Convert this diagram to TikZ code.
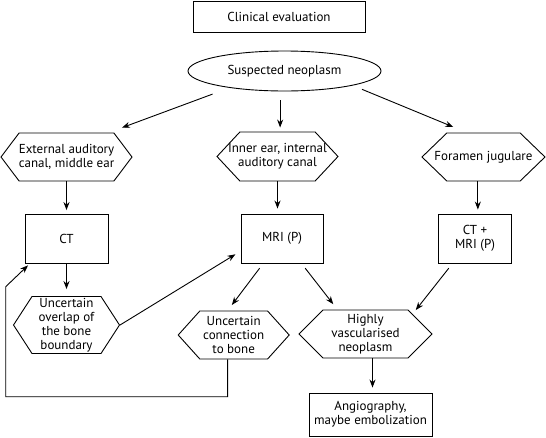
\documentclass[tikz,border=0pt]{standalone}
\usepackage{fontspec}
\setmainfont{PT Sans}
\usetikzlibrary{arrows.meta,positioning,shapes.geometric,shapes.symbols}
\tikzset{
>={Stealth[length=8pt,width=6pt]},
  boxnode/.style={
    rectangle,
    draw=black, line width=0.9pt,
    align=center,
    inner sep=2pt},
  hexnode/.style={
    signal,
    signal to=west and east,
    signal pointer angle=96,
    draw=black, line width=0.9pt,
    align=center,
    inner xsep=-20pt, inner ysep=0pt},
  ovalnode/.style={
    ellipse,
    draw=black, line width=0.9pt,
    inner sep=0pt},
  line/.style={draw, line width=0.9pt, ->},
}

\begin{document}
\begin{tikzpicture}
[x=1pt, y=-1pt, node distance=82pt,
  font=\fontsize{13}{14}\selectfont]
  \useasboundingbox (0,0) rectangle (546,437);

    \node [boxnode, minimum width=172pt, minimum height=31pt] (eval) at (279,16.5) {Clinical evaluation};
    \node [ovalnode, minimum width=193pt, minimum height=40pt] (neo) at (284.5,71) {Suspected neoplasm};

    \node [hexnode, signal pointer angle=106, minimum width=131pt, minimum height=48pt] (ext) at (66.5,157)
                                          {External auditory\\canal, middle ear};
    \node [hexnode, signal pointer angle=94, minimum width=121pt, minimum height=49pt] (inner) at (277.5,156.5)
                                          {Inner ear, internal\\auditory canal};
    \node [hexnode, signal pointer angle=88, minimum width=123pt, minimum height=48pt] (foramen) at (483.5,157)
                                          {Foramen jugulare};

    \node [boxnode, minimum width=83pt, minimum height=49pt, below of=ext] (ct) {CT};
    \node [boxnode, minimum width=82pt, minimum height=49pt] (mri) at (282,238.5) {MRI (P)};
    \node [boxnode, minimum width=73pt, minimum height=49pt] (ctmri) at (475,238.5) {CT +\\MRI (P)};

    \node [hexnode, signal pointer angle=114, minimum width=106pt, minimum height=57pt,
           below of=ct, node distance=86pt] (overlap) {Uncertain\\overlap of\\the bone\\boundary};
    \node [hexnode, minimum width=111pt, minimum height=48pt] (conn) at (233.7,335) {Uncertain\\connection\\to bone};
    \node [hexnode, signal pointer angle=90, minimum width=133pt, minimum height=48pt] (vasc) at (365.5,334)
                                          {Highly\\vascularised\\neoplasm};
    \node [boxnode, minimum width=123pt, minimum height=43pt] (angio) at (370.5,414.5) {Angiography,\\maybe embolization};

    % loop back to CT
    \coordinate (lc) at (5.7,396.7);
    \coordinate (lt) at (5.7,286.7);

    \draw[line, shorten <=18pt, shorten >=14pt] (neo.197) -- (ext.30);
    \draw[line, shorten <=9pt, shorten >=4pt] (inner.84 |- neo.south) -- (inner.84);
    \draw[line, shorten <=10pt, shorten >=15pt] (neo.348) -- (foramen.124);

    \draw[line, shorten >=4pt] (ext.south) -- (ext.south |- ct.north);
    \draw[line, shorten >=5pt] (inner.south) -- (inner.south |- mri.north);
    \draw[line, shorten >=4pt] (foramen.257) -- (foramen.257 |- ctmri.north);

    \draw[line, shorten >=7pt] (ct.south) -- (ct.south |- overlap.north);
    \draw[line, shorten <=6pt, shorten >=7pt] (mri.233) -- (conn.104);
    \draw[line, shorten <=6pt, shorten >=7pt] (mri.308) -- (vasc.139);
    \draw[line, shorten <=6pt, shorten >=5pt] (ctmri.228) -- (vasc.23);
    \draw[line, shorten >=6pt] (overlap.east) -- (mri.197);
    \draw[line, shorten >=2pt] (conn.256) |- (lc) -- (lt) -- (ct.214);
    \draw[line, shorten >=5pt] (vasc.286) -- (vasc.286 |- angio.north);

\end{tikzpicture}
\end{document}
